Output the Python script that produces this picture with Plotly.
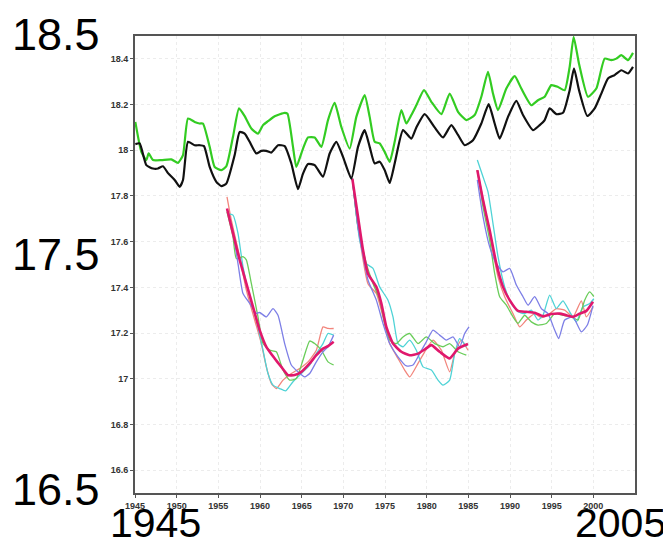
import plotly.graph_objects as go

# ---------------- observed / reanalysis series ----------------
black_years = [1945.04, 1945.56, 1946.36, 1947.16, 1947.76, 1948.36, 1948.96, 1949.76, 1950.36, 1950.76,
               1951.36, 1952.16, 1952.76, 1953.28, 1953.96, 1954.76, 1955.36, 1955.96, 1956.96, 1957.56,
               1958.16, 1958.76, 1959.56, 1960.16, 1960.76, 1961.36, 1962.16, 1962.96, 1963.76, 1964.56,
               1965.16, 1965.76, 1966.56, 1967.56, 1968.36, 1969.16, 1969.96, 1970.96, 1971.76, 1972.56,
               1973.16, 1973.76, 1974.36, 1974.96, 1975.56, 1976.16, 1977.16, 1978.16, 1978.76, 1979.76,
               1980.96, 1981.96, 1982.96, 1983.76, 1984.56, 1985.56, 1986.56, 1987.44, 1988.16, 1988.76,
               1989.76, 1990.76, 1991.56, 1992.76, 1993.56, 1994.16, 1994.76, 1995.56, 1996.36, 1997.16,
               1997.68, 1998.28, 1999.28, 2000.16, 2000.96, 2001.76, 2002.56, 2003.36, 2004.16, 2004.76]
black_values = [18.027, 18.03, 17.935, 17.92, 17.92, 17.93, 17.90, 17.87, 17.84, 17.87,
                18.037, 18.022, 18.022, 18.018, 17.927, 17.862, 17.843, 17.854, 17.979, 18.08,
                18.073, 18.037, 17.986, 17.997, 17.997, 17.99, 18.022, 18.018, 17.942, 17.83,
                17.898, 17.94, 17.935, 17.884, 17.986, 18.037, 17.971, 17.876, 18.015, 18.088,
                18.015, 17.942, 17.95, 17.913, 17.857, 17.942, 18.088, 18.051, 18.10, 18.158,
                18.10, 18.056, 18.11, 18.067, 18.022, 18.044, 18.117, 18.202, 18.117, 18.051,
                18.146, 18.216, 18.154, 18.088, 18.11, 18.132, 18.183, 18.158, 18.164, 18.263,
                18.358, 18.263, 18.15, 18.183, 18.248, 18.314, 18.329, 18.35, 18.336, 18.365]

green_years = [1945.04, 1945.76, 1946.36, 1946.64, 1947.16, 1948.16, 1949.36, 1950.16, 1950.76, 1951.36,
               1952.16, 1952.76, 1953.16, 1953.96, 1954.56, 1955.36, 1955.96, 1956.76, 1957.48, 1958.16,
               1958.96, 1959.76, 1960.36, 1960.96, 1961.76, 1962.96, 1963.3, 1963.96, 1964.36, 1965.16,
               1965.76, 1966.56, 1967.36, 1968.16, 1968.96, 1969.76, 1970.76, 1971.56, 1972.56, 1973.16,
               1973.76, 1974.36, 1974.96, 1975.56, 1976.16, 1976.96, 1977.56, 1978.16, 1978.76, 1979.68,
               1980.56, 1981.76, 1982.76, 1983.76, 1984.76, 1985.76, 1986.56, 1987.36, 1987.96, 1988.56,
               1989.56, 1990.56, 1991.36, 1992.56, 1993.36, 1994.16, 1994.96, 1995.76, 1996.56, 1997.16,
               1997.64, 1998.28, 1999.36, 2000.36, 2001.36, 2002.16, 2002.76, 2003.36, 2004.16, 2004.76]
green_values = [18.124, 17.993, 17.957, 17.986, 17.957, 17.957, 17.96, 17.945, 17.979, 18.139,
                18.124, 18.117, 18.117, 18.015, 17.927, 17.913, 17.93, 18.059, 18.183, 18.149,
                18.095, 18.073, 18.11, 18.127, 18.149, 18.164, 18.16, 18.015, 17.927, 18.007,
                18.056, 18.056, 18.015, 18.132, 18.207, 18.102, 18.007, 18.146, 18.241, 18.146,
                18.037, 18.03, 17.993, 17.949, 18.037, 18.176, 18.117, 18.154, 18.197, 18.263,
                18.212, 18.158, 18.248, 18.168, 18.132, 18.154, 18.234, 18.343, 18.248, 18.176,
                18.27, 18.324, 18.27, 18.197, 18.219, 18.234, 18.285, 18.277, 18.263, 18.365,
                18.496, 18.379, 18.234, 18.27, 18.401, 18.394, 18.401, 18.416, 18.394, 18.426]

# ---------------- hindcast 1 (start 1956) ----------------
h1_red_x = [1956.04, 1956.56, 1957.56, 1958.36, 1959.36, 1960.16, 1960.76, 1961.36, 1961.96, 1962.76, 1963.76, 1964.76, 1965.76, 1966.76, 1967.56, 1968.16, 1968.84]
h1_red_y = [17.796, 17.694, 17.534, 17.388, 17.257, 17.154, 17.052, 16.98, 16.957, 16.994, 17.023, 17.045, 17.074, 17.125, 17.227, 17.22, 17.22]
h1_cyan_x = [1956.04, 1956.76, 1957.36, 1957.96, 1958.76, 1959.56, 1960.36, 1960.96, 1961.56, 1962.36, 1963.08, 1963.96, 1964.96, 1965.96, 1966.76, 1967.56, 1968.16, 1968.84]
h1_cyan_y = [17.723, 17.716, 17.636, 17.49, 17.359, 17.257, 17.125, 17.023, 16.972, 16.957, 16.947, 16.987, 17.023, 17.06, 17.11, 17.154, 17.198, 17.191]
h1_green_x = [1956.04, 1956.76, 1957.16, 1957.96, 1958.36, 1958.96, 1959.76, 1960.36, 1961.16, 1961.96, 1962.76, 1963.56, 1964.36, 1965.16, 1965.96, 1966.56, 1967.36, 1968.16, 1968.84]
h1_green_y = [17.73, 17.621, 17.526, 17.534, 17.52, 17.417, 17.271, 17.154, 17.125, 17.118, 17.038, 16.994, 17.001, 17.082, 17.165, 17.154, 17.125, 17.074, 17.06]
h1_blue_x = [1956.04, 1956.76, 1957.36, 1957.96, 1958.76, 1959.56, 1959.96, 1960.76, 1961.56, 1962.16, 1962.96, 1963.76, 1964.56, 1965.36, 1965.96, 1966.76, 1967.56, 1968.16, 1968.84]
h1_blue_y = [17.74, 17.64, 17.504, 17.373, 17.33, 17.286, 17.29, 17.271, 17.307, 17.278, 17.154, 17.06, 17.03, 17.008, 17.023, 17.074, 17.118, 17.14, 17.191]
h1_mean_x = [1956.04, 1956.76, 1957.56, 1958.36, 1959.16, 1959.96, 1960.76, 1961.76, 1962.56, 1963.36, 1964.16, 1964.96, 1965.96, 1966.76, 1967.56, 1968.16, 1968.84]
h1_mean_y = [17.745, 17.636, 17.52, 17.417, 17.315, 17.213, 17.14, 17.089, 17.052, 17.016, 17.016, 17.03, 17.067, 17.103, 17.132, 17.143, 17.162]

# ---------------- hindcast 2 (start 1971) ----------------
h2_red_x = [1971.08, 1971.76, 1972.96, 1973.96, 1974.76, 1975.56, 1976.56, 1977.36, 1977.96, 1978.96, 1979.76, 1980.76, 1981.76, 1982.76, 1983.36, 1984.16, 1984.96]
h2_red_y = [17.876, 17.665, 17.416, 17.373, 17.271, 17.154, 17.089, 17.038, 17.008, 17.067, 17.118, 17.169, 17.125, 17.03, 17.11, 17.169, 17.125]
h2_cyan_x = [1971.08, 1971.96, 1972.76, 1973.56, 1974.36, 1975.36, 1975.96, 1976.56, 1977.16, 1977.96, 1978.76, 1979.56, 1980.56, 1981.36, 1981.96, 1982.76, 1983.36, 1983.96, 1984.76]
h2_cyan_y = [17.876, 17.607, 17.504, 17.483, 17.402, 17.344, 17.271, 17.154, 17.14, 17.169, 17.125, 17.052, 17.038, 16.994, 16.972, 16.994, 17.11, 17.176, 17.14]
h2_green_x = [1971.08, 1971.76, 1972.76, 1973.56, 1974.36, 1974.96, 1975.56, 1976.36, 1977.16, 1977.96, 1978.96, 1979.96, 1980.96, 1981.96, 1982.76, 1983.76, 1984.76]
h2_green_y = [17.876, 17.665, 17.504, 17.417, 17.344, 17.242, 17.169, 17.154, 17.183, 17.198, 17.154, 17.183, 17.154, 17.14, 17.154, 17.118, 17.103]
h2_blue_x = [1971.08, 1971.76, 1972.96, 1973.96, 1974.76, 1975.56, 1976.56, 1977.56, 1978.36, 1979.16, 1979.96, 1980.76, 1981.56, 1982.36, 1983.16, 1983.96, 1984.56, 1985.08]
h2_blue_y = [17.876, 17.665, 17.432, 17.344, 17.242, 17.154, 17.096, 17.056, 17.06, 17.11, 17.162, 17.213, 17.191, 17.169, 17.183, 17.14, 17.198, 17.227]
h2_mean_x = [1971.08, 1971.76, 1972.36, 1972.96, 1973.96, 1974.56, 1975.16, 1975.96, 1976.96, 1977.96, 1978.96, 1979.76, 1980.56, 1981.56, 1982.76, 1983.76, 1984.96]
h2_mean_y = [17.876, 17.709, 17.563, 17.46, 17.402, 17.33, 17.227, 17.154, 17.118, 17.103, 17.11, 17.128, 17.147, 17.118, 17.089, 17.132, 17.152]

# ---------------- hindcast 3 (start 1986) ----------------
h3_red_x = [1986.08, 1986.96, 1987.76, 1988.56, 1989.36, 1990.36, 1991.16, 1991.96, 1992.96, 1993.76, 1994.76, 1995.56, 1996.56, 1997.56, 1998.56, 1999.16, 1999.96]
h3_red_y = [17.913, 17.752, 17.592, 17.446, 17.359, 17.285, 17.227, 17.257, 17.285, 17.268, 17.285, 17.307, 17.30, 17.271, 17.341, 17.271, 17.315]
h3_cyan_x = [1986.08, 1986.76, 1987.36, 1987.96, 1988.56, 1989.36, 1990.16, 1990.96, 1991.76, 1992.56, 1993.36, 1993.96, 1994.76, 1995.56, 1996.36, 1997.16, 1997.96, 1998.76, 1999.56, 2000.06]
h3_cyan_y = [17.957, 17.884, 17.818, 17.679, 17.534, 17.402, 17.329, 17.293, 17.285, 17.30, 17.257, 17.278, 17.366, 17.307, 17.341, 17.293, 17.249, 17.315, 17.329, 17.35]
h3_green_x = [1986.08, 1986.76, 1987.56, 1988.16, 1988.76, 1989.56, 1990.36, 1990.96, 1991.76, 1992.56, 1993.36, 1994.36, 1995.36, 1996.36, 1997.36, 1998.16, 1998.96, 1999.56, 2000.06]
h3_green_y = [17.913, 17.752, 17.607, 17.461, 17.359, 17.322, 17.271, 17.242, 17.278, 17.249, 17.235, 17.242, 17.285, 17.278, 17.271, 17.257, 17.344, 17.38, 17.36]
h3_blue_x = [1986.08, 1986.76, 1987.56, 1988.36, 1989.16, 1989.96, 1990.76, 1991.56, 1992.16, 1992.96, 1993.76, 1994.56, 1995.36, 1995.84, 1996.56, 1997.56, 1998.56, 1999.28, 1999.96]
h3_blue_y = [17.87, 17.709, 17.577, 17.504, 17.468, 17.483, 17.41, 17.359, 17.322, 17.359, 17.307, 17.285, 17.213, 17.176, 17.257, 17.271, 17.205, 17.235, 17.32]
h3_mean_x = [1986.08, 1986.76, 1987.56, 1988.36, 1989.16, 1989.96, 1990.96, 1991.96, 1992.96, 1993.96, 1994.96, 1995.96, 1996.76, 1997.56, 1998.36, 1999.16, 1999.96]
h3_mean_y = [17.913, 17.782, 17.65, 17.504, 17.402, 17.344, 17.297, 17.293, 17.289, 17.274, 17.283, 17.285, 17.278, 17.271, 17.285, 17.297, 17.337]

x_tick_values = [1945, 1950, 1955, 1960, 1965, 1970, 1975, 1980, 1985, 1990, 1995, 2000]
y_tick_values = [16.6, 16.8, 17, 17.2, 17.4, 17.6, 17.8, 18, 18.2, 18.4]
big_y_labels = ["18.5", "17.5", "16.5"]
big_x_labels = ["1945", "2005"]

RED = "#f2857c"
CYAN = "#4fd3d6"
GREEN_T = "#6acd5a"
BLUE = "#7d7fe6"
MEAN = "#e0186c"

fig = go.Figure()

def add_line(x, y, color, width):
    fig.add_trace(go.Scatter(x=x, y=y, mode="lines", showlegend=False, hoverinfo="skip",
                             line=dict(color=color, width=width, shape="spline", smoothing=0.5)))

for xs, ys in [(h1_red_x, h1_red_y), (h2_red_x, h2_red_y), (h3_red_x, h3_red_y)]:
    add_line(xs, ys, RED, 1.3)
for xs, ys in [(h1_cyan_x, h1_cyan_y), (h2_cyan_x, h2_cyan_y), (h3_cyan_x, h3_cyan_y)]:
    add_line(xs, ys, CYAN, 1.3)
for xs, ys in [(h1_green_x, h1_green_y), (h2_green_x, h2_green_y), (h3_green_x, h3_green_y)]:
    add_line(xs, ys, GREEN_T, 1.3)
for xs, ys in [(h1_blue_x, h1_blue_y), (h2_blue_x, h2_blue_y), (h3_blue_x, h3_blue_y)]:
    add_line(xs, ys, BLUE, 1.3)
for xs, ys in [(h1_mean_x, h1_mean_y), (h2_mean_x, h2_mean_y), (h3_mean_x, h3_mean_y)]:
    add_line(xs, ys, MEAN, 2.6)

add_line(green_years, green_values, "#33cc22", 2.2)
add_line(black_years, black_values, "#111111", 2.2)

tick_font = dict(family="Liberation Sans, Arial, sans-serif", size=9, color="#333333", weight="bold")
fig.update_xaxes(range=[1945, 2005], tickvals=x_tick_values, ticktext=[str(v) for v in x_tick_values],
                 showline=True, linecolor="#555555", linewidth=2, mirror=True,
                 ticks="outside", ticklen=3, tickcolor="#555555", tickfont=tick_font,
                 showgrid=True, gridcolor="#ececec", griddash="dot", gridwidth=1, zeroline=False)
fig.update_yaxes(range=[16.5, 18.5], tickvals=y_tick_values, ticktext=[f"{v:g}" for v in y_tick_values],
                 showline=True, linecolor="#555555", linewidth=2, mirror=True,
                 ticks="outside", ticklen=3, tickcolor="#555555", tickfont=tick_font,
                 showgrid=True, gridcolor="#ececec", griddash="dot", gridwidth=1, zeroline=False)

PLOT_L, PLOT_T, PLOT_W, PLOT_H = 127, 28, 500, 457
y_font = dict(family="Liberation Sans, Arial, sans-serif", size=45, color="#000000")
x_font = dict(family="Liberation Sans, Arial, sans-serif", size=41, color="#000000")
for label, ypix in zip(big_y_labels, [26, 246, 481]):
    fig.add_annotation(text=label, xref="paper", yref="paper", x=(2 - PLOT_L) / PLOT_W,
                       y=1 - (ypix - PLOT_T) / PLOT_H, xanchor="left", yanchor="middle",
                       showarrow=False, font=y_font)
for label, xpix, anchor in zip(big_x_labels, [100, 660], ["left", "right"]):
    fig.add_annotation(text=label, xref="paper", yref="paper", x=(xpix - PLOT_L) / PLOT_W,
                       y=1 - (515 - PLOT_T) / PLOT_H, xanchor=anchor, yanchor="middle",
                       showarrow=False, font=x_font)

fig.update_layout(width=671, height=542, margin=dict(l=127, r=44, t=28, b=57),
                  paper_bgcolor="white", plot_bgcolor="white")

fig.write_html("out.html")
